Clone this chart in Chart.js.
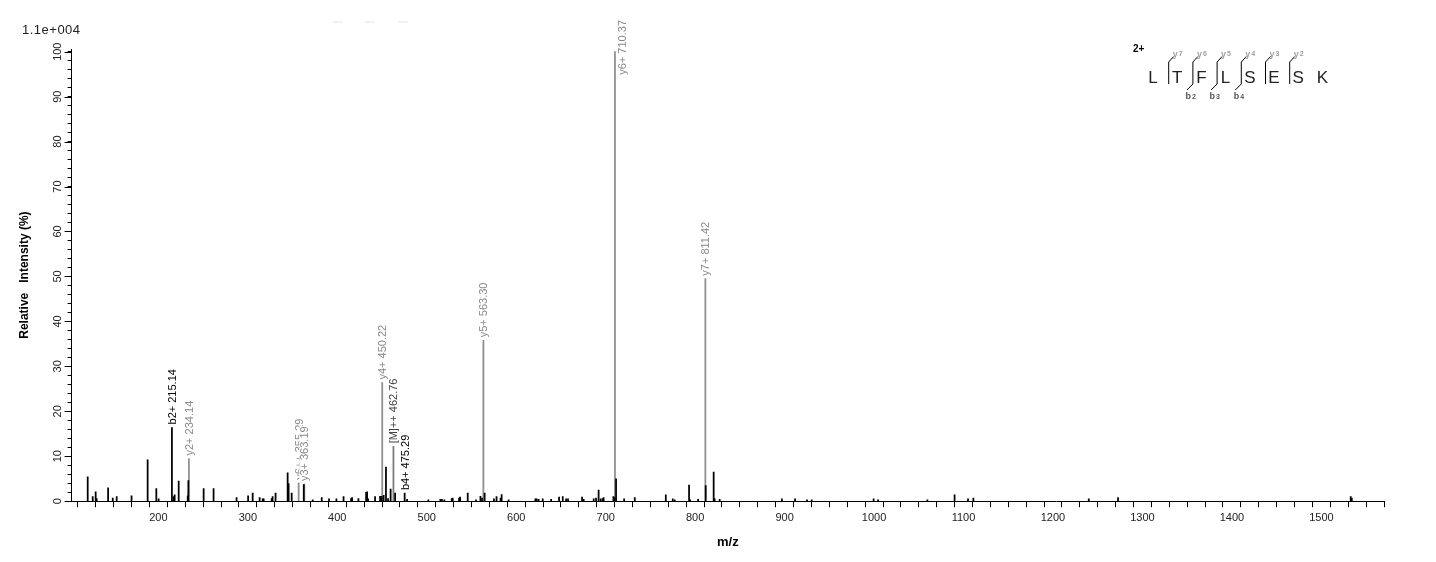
<!DOCTYPE html>
<html>
<head>
<meta charset="utf-8">
<script src="https://cdn.jsdelivr.net/npm/chart.js@4.4.0/dist/chart.umd.min.js"></script>
<style>
    html, body { margin: 0; padding: 0; background: #fff; }
    #wrap { position: relative; width: 1436px; height: 562px; }
    #scale-note { position: absolute; left: 22px; top: 22px; font: 13px "Liberation Sans", Arial, sans-serif; letter-spacing: 0.5px; color: #222; }
    #peptide { position: absolute; left: 0; top: 0; }
</style>
</head>
<body>
<div id="wrap">
    <canvas id="spectrum"></canvas>
    <div id="scale-note">1.1e+004</div>
    <svg id="peptide" width="1436" height="110"></svg>
</div>
<script>
// unannotated peaks (m/z, relative intensity %)
const peakMz = [121, 126.6, 129.9, 131, 143.8, 149, 153.4, 170, 188, 197.7, 200.3, 217, 218.2, 222.7, 232.8, 233.5,
    250.6, 261.7, 287.4, 300.3, 305.4, 313.2, 316.6, 317.7, 326.6, 327.7, 331, 344.5, 345.6, 349, 362.5,
    372.5, 382.6, 390.8, 399, 407, 415.4, 416.5, 423.6, 432.2, 433.3, 434.4, 442.2, 447.8, 449.6, 451.8,
    454.4, 456.7, 459.6, 464.6, 478, 501.8, 515.2, 517, 519.7, 527.9, 529, 536.1, 537.3, 545.8, 555.1,
    560, 561.8, 564.7, 575.1, 578, 582.5, 583.7, 591.5, 621.4, 622.9, 625.1, 629.6, 639, 647.9, 652,
    655.7, 657.9, 673.6, 675.4, 686.6, 689.2, 692.1, 694.4, 696.6, 697.7, 708.6, 709.7, 711.6, 720.6,
    732.5, 767.2, 775, 777.2, 793.2, 794.4, 803.3, 811.8, 820.7, 821.8, 827.4, 897, 911.7, 925, 930.3,
    999.5, 1004.5, 1059.6, 1090, 1105, 1111, 1240, 1272.7, 1532.8, 1534];
const peakIntensity = [5.4, 1.0, 2.1, 0.6, 3.0, 0.7, 1.0, 1.2, 9.2, 2.8, 0.5, 1.0, 1.4, 4.5, 1.2, 4.6,
    2.8, 2.8, 0.8, 1.2, 1.8, 0.8, 0.5, 0.5, 0.6, 1.0, 1.8, 6.3, 3.9, 1.8, 3.7,
    0.3, 0.8, 0.5, 0.5, 1.0, 0.6, 0.8, 0.6, 2.0, 2.1, 0.5, 1.0, 1.1, 1.1, 1.3,
    7.6, 0.6, 2.7, 1.8, 0.4, 0.3, 0.4, 0.4, 0.3, 0.6, 0.7, 0.7, 0.9, 1.8, 0.3,
    1.1, 0.7, 1.8, 0.5, 1.0, 0.7, 1.5, 0.3, 0.5, 0.5, 0.4, 0.5, 0.4, 0.9, 1.0,
    0.5, 0.5, 0.9, 0.4, 0.5, 0.7, 2.5, 0.5, 0.6, 0.8, 1.0, 0.8, 5.0, 0.5,
    0.8, 1.4, 0.5, 0.3, 3.6, 0.3, 0.4, 3.5, 6.5, 0.5, 0.4, 0.5, 0.5, 0.3, 0.3,
    0.5, 0.3, 0.3, 1.4, 0.5, 0.7, 0.5, 0.8, 1.0, 0.7];

// annotated fragment ions
const ionMz = [215.14, 234.14, 356.8, 363.19, 450.22, 462.76, 475.29, 563.30, 710.37, 811.42];
const ionIntensity = [16.4, 9.5, 4.1, 3.8, 26.4, 12.2, 1.8, 35.8, 100, 49.5];
const ionLabels = ['b2+ 215.14', 'y2+ 234.14', 'y6++ 355.29', 'y3+ 363.19', 'y4+ 450.22',
    '[M]++ 462.76', 'b4+ 475.29', 'y5+ 563.30', 'y6+ 710.37', 'y7+ 811.42'];
const ionSeries = ['b', 'y', 'y', 'y', 'y', 'M', 'b', 'y', 'y', 'y'];

// axis ticks
const xLabelTicks = [200, 300, 400, 500, 600, 700, 800, 900, 1000, 1100, 1200, 1300, 1400, 1500];
const yLabelTicks = [0, 10, 20, 30, 40, 50, 60, 70, 80, 90, 100];

// peptide sequence annotation
const residues = ['L', 'T', 'F', 'L', 'S', 'E', 'S', 'K'];
const yIonNames = ['7', '6', '5', '4', '3', '2'];
const bIonNames = ['', '2', '3', '4', '', ''];

const ionStyle = {
    y: { line: '#8e8e8e', text: '#8a8a8a' },
    b: { line: '#000000', text: '#000000' },
    M: { line: '#7a7a7a', text: '#444444' }
};
const FONT = '"Liberation Sans", Arial, sans-serif';

const xMinor = [];
for (let v = 120; v <= 1560; v += 20) xMinor.push(v);
const yMinor = [];
for (let v = 0; v <= 100; v += 2) yMinor.push(v);

const ionLabelPlugin = {
    id: 'ionLabels',
    afterDatasetsDraw(chart) {
        const ctx = chart.ctx;
        const meta = chart.getDatasetMeta(1);
        ctx.save();
        ctx.font = '11px ' + FONT;
        meta.data.forEach((bar, i) => {
            const label = ionLabels[i];
            const w = ctx.measureText(label).width;
            let x = bar.x + 1;
            let bottom = bar.y - 3;
            if (bottom - w < 18) {
                // no room above the peak: put it beside the line
                x = bar.x + 8;
                bottom = 20 + w;
            }
            ctx.save();
            ctx.translate(x, bottom);
            ctx.rotate(-Math.PI / 2);
            ctx.fillStyle = '#fff';
            ctx.fillRect(0, -6, w, 12);
            ctx.fillStyle = ionStyle[ionSeries[i]].text;
            ctx.textAlign = 'left';
            ctx.textBaseline = 'middle';
            ctx.fillText(label, 0, 0);
            ctx.restore();
        });
        ctx.restore();
    }
};

// longer marks on the labelled y ticks
const majorTickPlugin = {
    id: 'majorTicks',
    afterDraw(chart) {
        const y = chart.scales.y;
        const ctx = chart.ctx;
        ctx.save();
        ctx.strokeStyle = '#000';
        ctx.lineWidth = 1;
        yLabelTicks.forEach(v => {
            const py = Math.round(y.getPixelForValue(v)) + 0.5;
            ctx.beginPath();
            ctx.moveTo(y.right - 7, py);
            ctx.lineTo(y.right, py);
            ctx.stroke();
        });
        ctx.restore();
    }
};

const ctx = document.getElementById('spectrum').getContext('2d');
new Chart(ctx, {
    type: 'bar',
    data: {
        datasets: [{
            label: 'peaks',
            data: peakMz.map((m, i) => ({ x: m, y: peakIntensity[i] })),
            backgroundColor: '#000',
            barThickness: 1.1
        }, {
            label: 'ions',
            data: ionMz.map((m, i) => ({ x: m, y: ionIntensity[i] })),
            backgroundColor: ionSeries.map(s => ionStyle[s].line),
            barThickness: 1.1
        }]
    },
    options: {
        responsive: true,
        maintainAspectRatio: false,
        animation: false,
        layout: { padding: { left: 10, right: 52, top: 49, bottom: 8 } },
        plugins: { legend: { display: false }, tooltip: { enabled: false } },
        datasets: { bar: { grouped: false } },
        scales: {
            x: {
                type: 'linear',
                min: 103,
                max: 1570,
                offset: false,
                afterBuildTicks: s => { s.ticks = xMinor.map(v => ({ value: v })); },
                ticks: {
                    autoSkip: false, maxRotation: 0, padding: 4, color: '#222',
                    font: { family: FONT, size: 11 },
                    callback: v => xLabelTicks.includes(v) ? String(v) : ''
                },
                grid: { display: true, drawOnChartArea: false, drawTicks: true, tickLength: 6, tickColor: '#000', color: '#000' },
                border: { display: true, color: '#000', width: 1 },
                title: { display: true, text: 'm/z', color: '#000', font: { family: FONT, size: 13, weight: 'bold' }, padding: { top: 6, bottom: 4 } }
            },
            y: {
                min: 0,
                max: 100.6,
                afterBuildTicks: s => { s.ticks = yMinor.map(v => ({ value: v })); },
                ticks: {
                    autoSkip: false, minRotation: 90, maxRotation: 90, padding: 0, crossAlign: 'center', color: '#222',
                    font: { family: FONT, size: 11 },
                    callback: v => yLabelTicks.includes(v) ? String(v) : ''
                },
                grid: { display: true, drawOnChartArea: false, drawTicks: true, tickLength: 4, tickColor: '#000', color: '#000' },
                border: { display: true, color: '#000', width: 1 },
                title: { display: true, text: 'Relative   Intensity (%)', color: '#000', font: { family: FONT, size: 12, weight: 'bold' }, padding: { top: 7, bottom: 23 } }
            }
        }
    },
    plugins: [ionLabelPlugin, majorTickPlugin]
});

// sequence coverage drawing (top right)
const svg = document.getElementById('peptide');
const NS = 'http://www.w3.org/2000/svg';
function add(tag, attrs, text) {
    const el = document.createElementNS(NS, tag);
    Object.entries(attrs).forEach(([k, v]) => el.setAttribute(k, v));
    if (text !== undefined) el.textContent = text;
    svg.appendChild(el);
    return el;
}
add('text', { x: 1133, y: 52, 'font-family': FONT, 'font-size': 10, 'font-weight': 'bold', fill: '#000' }, '2+');
residues.forEach((r, i) => {
    add('text', { x: 1153 + i * 24.2, y: 82.5, 'font-family': FONT, 'font-size': 17, 'text-anchor': 'middle', fill: '#222' }, r);
});
yIonNames.forEach((n, i) => {
    const lx = 1153 + (i + 1) * 24.2 - 8.5;
    add('path', { d: `M${lx} 84 L${lx} 62 L${lx + 5} 56.5`, stroke: '#000', 'stroke-width': 1, fill: 'none' });
    const t = add('text', { x: lx + 4, y: 57, 'font-family': FONT, 'font-size': 9, 'font-weight': 'bold', fill: '#a0a0a0' }, 'y');
    const s = document.createElementNS(NS, 'tspan');
    s.setAttribute('font-size', 7);
    s.setAttribute('dx', 1);
    s.setAttribute('dy', -1);
    s.textContent = n;
    t.appendChild(s);
    if (bIonNames[i]) {
        add('path', { d: `M${lx} 84 L${lx - 6} 90`, stroke: '#000', 'stroke-width': 1, fill: 'none' });
        const b = add('text', { x: lx - 7.5, y: 99, 'font-family': FONT, 'font-size': 9, 'font-weight': 'bold', fill: '#555' }, 'b');
        const bs = document.createElementNS(NS, 'tspan');
        bs.setAttribute('font-size', 7);
        bs.setAttribute('dx', 1);
        bs.textContent = bIonNames[i];
        b.appendChild(bs);
    }
});
[333, 365, 398].forEach(x => add('line', { x1: x, y1: 22, x2: x + 10, y2: 22, stroke: '#e2e2e2', 'stroke-width': 1 }));
</script>
</body>
</html>
